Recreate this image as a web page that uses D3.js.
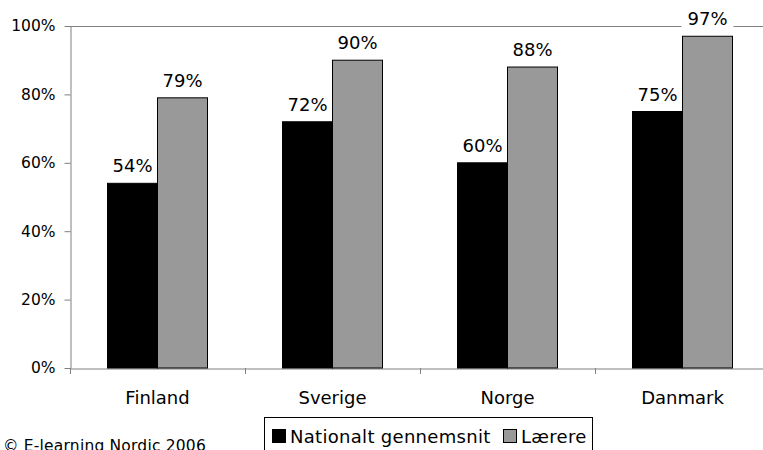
<!DOCTYPE html>
<html><head><meta charset="utf-8">
<script src="https://cdn.jsdelivr.net/npm/d3@7"></script>
<style>body{margin:0;background:#fff}svg{display:block;font-family:"DejaVu Sans",Verdana,sans-serif}</style>
</head><body>
<svg id="c" width="763" height="450"></svg>
<script>
const categories = ["Finland","Sverige","Norge","Danmark"];
const seriesNames = ["Nationalt gennemsnit","Lærere"];
const nationalt = [54,72,60,75];
const laerere = [79,90,88,97];
const yTicks = [0,20,40,60,80,100];
const colors = ["#000000","#999999"];

(function(){
const svg = d3.select("#c");
const mLeft = 70, mRight = 770, mTop = 26, mBottom = 368;
const x = d3.scaleBand().domain(categories).range([mLeft,mRight]).paddingInner(0).paddingOuter(0);
const x1 = d3.scaleBand().domain([0,1]).range([0,100]);
const y = d3.scaleLinear().domain([0,100]).range([mBottom,mTop]);
const fs = 18;

svg.append("line").attr("x1",mLeft).attr("x2",mRight).attr("y1",y(100)+0.5).attr("y2",y(100)+0.5).attr("stroke","#808080").attr("stroke-width",1);

const yAxis = svg.append("g").attr("transform",`translate(${mLeft+0.5},0)`)
  .call(d3.axisLeft(y).tickValues(yTicks).tickFormat(d=>d+"%").tickSize(6).tickSizeOuter(0));
yAxis.select(".domain").attr("stroke","#808080");
yAxis.selectAll(".tick line").attr("stroke","#808080");
yAxis.selectAll("text").attr("font-size",15.5).attr("fill","#000").attr("x",-15).attr("font-family","DejaVu Sans");

const xAxis = svg.append("g").attr("transform",`translate(0,${mBottom+0.5})`)
  .call(d3.axisBottom(x).tickSize(0).tickSizeOuter(0));
xAxis.select(".domain").attr("stroke","#808080");
xAxis.selectAll("text").attr("font-size",fs).attr("fill","#000").attr("dy","1.8em").attr("font-family","DejaVu Sans");
const bounds = categories.map(c=>x(c)).concat([mRight]);
svg.append("g").selectAll("line").data(bounds).join("line")
  .attr("x1",d=>d+0.5).attr("x2",d=>d+0.5).attr("y1",mBottom).attr("y2",mBottom+6).attr("stroke","#808080");

const data = categories.map((c,i)=>({c, vals:[nationalt[i], laerere[i]]}));
const g = svg.append("g");
data.forEach(d=>{
  const cx = x(d.c) + x.bandwidth()/2 - 50;
  d.vals.forEach((v,j)=>{
    g.append("rect").attr("x",cx + x1(j)).attr("y",y(v)).attr("width",x1.bandwidth()).attr("height",y(0)-y(v))
      .attr("fill",colors[j]).attr("stroke","#000").attr("stroke-width",1);
    const tx = cx + x1(j) + x1.bandwidth()/2, ty = y(v) - 11;
    if (v > 94) {
      g.append("rect").attr("x",tx-26).attr("y",ty-17).attr("width",52).attr("height",22).attr("fill","#fff");
    }
    g.append("text").attr("x",tx).attr("y",ty).attr("text-anchor","middle").attr("font-size",fs).text(v+"%");
  });
});

const lg = svg.append("g");
lg.append("rect").attr("x",264.5).attr("y",417.5).attr("width",328).attr("height",40).attr("fill","#fff").attr("stroke","#000");
const lx = [272, 503];
seriesNames.forEach((n,j)=>{
  lg.append("rect").attr("x",lx[j]+0.5).attr("y",429.5).attr("width",13).attr("height",13).attr("fill",colors[j]).attr("stroke","#000");
  lg.append("text").attr("x",lx[j]+18).attr("y",443).attr("font-size",fs).attr("letter-spacing",0.3).text(n);
});

svg.append("text").attr("x",3).attr("y",451).attr("font-size",15.5).attr("letter-spacing",0.2).text("© E-learning Nordic 2006");
})();
</script>
</body></html>
